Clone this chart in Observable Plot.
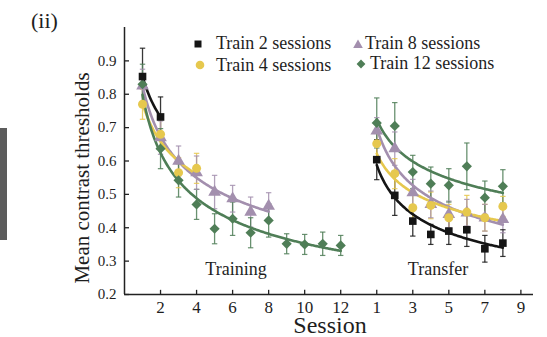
<!DOCTYPE html>
<html>
<head>
<meta charset="utf-8">
<script src="https://cdn.jsdelivr.net/npm/d3@7"></script>
<script src="https://cdn.jsdelivr.net/npm/@observablehq/plot@0.6"></script>
<style>
  body { margin: 0; background: #fff; }
  #wrap { position: relative; width: 547px; height: 337px; background: #fff; font-family: "Liberation Serif", "Times New Roman", Times, Tinos, "Nimbus Roman", "DejaVu Serif", "Noto Serif", serif; color: #1e1e1e; overflow: hidden; }
  .ov { position: absolute; white-space: nowrap; line-height: 1; }
</style>
</head>
<body>
<div id="wrap"></div>
<script>
// ---------- data ----------
const seriesNames = ["Train 2 sessions", "Train 4 sessions", "Train 8 sessions", "Train 12 sessions"];
const seriesColors = ["#151515", "#e6c84e", "#a38fae", "#4f7e57"];
const seriesSymbols = ["square", "circle", "triangle", "diamond2"];

// training phase, mean thresholds per session (session 1..n)
const train2 = [0.853, 0.732];
const train4 = [0.77, 0.68, 0.565, 0.578];
const train8 = [0.825, 0.67, 0.60, 0.565, 0.507, 0.487, 0.447, 0.465];
const train12 = [0.83, 0.637, 0.542, 0.47, 0.397, 0.427, 0.385, 0.422, 0.352, 0.35, 0.352, 0.347];
const train2Err = [0.085, 0.06];
const train4Err = [0.045, 0.045, 0.045, 0.045];
const train8Err = [0.05, 0.05, 0.045, 0.05, 0.05, 0.04, 0.045, 0.04];
const train12Err = [0.06, 0.06, 0.05, 0.045, 0.045, 0.05, 0.045, 0.05, 0.03, 0.03, 0.035, 0.03];

// transfer phase, sessions 1..8
const transfer2 = [0.604, 0.497, 0.42, 0.38, 0.39, 0.394, 0.337, 0.354];
const transfer4 = [0.652, 0.562, 0.46, 0.467, 0.43, 0.447, 0.43, 0.464];
const transfer8 = [0.69, 0.637, 0.505, 0.47, 0.44, 0.445, 0.43, 0.425];
const transfer12 = [0.714, 0.705, 0.567, 0.532, 0.527, 0.584, 0.49, 0.524];
const transfer2Err = [0.06, 0.06, 0.045, 0.03, 0.04, 0.05, 0.04, 0.04];
const transfer4Err = [0.04, 0.045, 0.04, 0.04, 0.04, 0.05, 0.04, 0.03];
const transfer8Err = [0.04, 0.05, 0.04, 0.04, 0.04, 0.04, 0.04, 0.04];
const transfer12Err = [0.075, 0.07, 0.05, 0.05, 0.05, 0.07, 0.05, 0.05];

// tick labels
const trainTickLabels = [2, 4, 6, 8, 10, 12];
const transferTickLabels = [1, 3, 5, 7, 9];
const yTickLabels = [0.2, 0.3, 0.4, 0.5, 0.6, 0.7, 0.8, 0.9];

// ---------- build ----------
const transferOffset = 13; // transfer session s drawn at axis position 13 + s
const trainSets = [train2, train4, train8, train12];
const trainErrs = [train2Err, train4Err, train8Err, train12Err];
const transferSets = [transfer2, transfer4, transfer8, transfer12];
const transferErrs = [transfer2Err, transfer4Err, transfer8Err, transfer12Err];

const points = [];
const fits = [];
function powerFit(vals) {
  const xs = vals.map((_, i) => Math.log(i + 1));
  const ys = vals.map(v => Math.log(v));
  const mx = d3.mean(xs), my = d3.mean(ys);
  const b = d3.sum(xs, (x, i) => (x - mx) * (ys[i] - my)) / d3.sum(xs, x => (x - mx) ** 2);
  const a = Math.exp(my - b * mx);
  return s => a * Math.pow(s, b);
}
function addPhase(sets, errs, offset, phase) {
  sets.forEach((vals, g) => {
    vals.forEach((v, i) => points.push({x: offset + i + 1, y: v, e: errs[g][i], g, phase}));
    const f = powerFit(vals);
    d3.range(1, vals.length + 0.0001, 0.05).forEach(s => fits.push({x: offset + s, y: f(s), g, key: phase + g}));
  });
}
addPhase(trainSets, trainErrs, 0, "train");
addPhase(transferSets, transferErrs, transferOffset, "transfer");

const xTickPos = trainTickLabels.concat(transferTickLabels.map(s => s + transferOffset));
const xTickText = new Map(xTickPos.map((p, i) => [p, String(trainTickLabels.concat(transferTickLabels)[i])]));

const col = g => seriesColors[g];
const drawOrder = [2, 1, 3, 0];
const capW = 0.15;
const axisColor = "#222";
const serif = "'Liberation Serif', 'Times New Roman', Times, Tinos, 'Nimbus Roman', 'DejaVu Serif', 'Noto Serif', serif";

const marks = [
  // error bars
  Plot.link(points, {x1: "x", x2: "x", y1: d => d.y - d.e, y2: d => d.y + d.e, stroke: d => col(d.g), strokeWidth: 1.3, strokeOpacity: 0.85}),
  Plot.link(points, {x1: d => d.x - capW, x2: d => d.x + capW, y1: d => d.y + d.e, y2: d => d.y + d.e, stroke: d => col(d.g), strokeWidth: 1.2, strokeOpacity: 0.85}),
  Plot.link(points, {x1: d => d.x - capW, x2: d => d.x + capW, y1: d => d.y - d.e, y2: d => d.y - d.e, stroke: d => col(d.g), strokeWidth: 1.2, strokeOpacity: 0.85}),
];
drawOrder.forEach(g => {
  marks.push(Plot.line(fits.filter(d => d.g === g), {x: "x", y: "y", z: "key", stroke: col(g), strokeWidth: 2.6}));
});
drawOrder.forEach(g => {
  const r = g === 2 ? 4.7 : g === 3 ? 4.6 : g === 0 ? 4.3 : 4.5;
  marks.push(Plot.dot(points.filter(d => d.g === g), {x: "x", y: "y", symbol: () => seriesSymbols[g], fill: col(g), stroke: "none", r}));
});
marks.push(
  Plot.ruleX([0], {stroke: axisColor, strokeWidth: 1.5}),
  Plot.ruleY([0.2], {stroke: axisColor, strokeWidth: 1.5}),
  // inward tick marks
  Plot.link(yTickLabels, {x1: 0, x2: 0.25, y1: d => d, y2: d => d, stroke: axisColor, strokeWidth: 1.3}),
  Plot.link(xTickPos, {x1: d => d, x2: d => d, y1: 0.2, y2: 0.2 + 0.014, stroke: axisColor, strokeWidth: 1.3}),
  Plot.axisY({ticks: yTickLabels, tickSize: 0, tickPadding: 8, tickFormat: d => d.toFixed(1), label: null, fontSize: 15}),
  Plot.axisX({ticks: xTickPos, tickSize: 0, tickPadding: 6, tickFormat: d => xTickText.get(d), label: null, fontSize: 17})
);

const chart = Plot.plot({
  width: 547,
  height: 337,
  marginLeft: 124,
  marginRight: 14,
  marginTop: 27,
  marginBottom: 43,
  x: {domain: [0, 22.7]},
  y: {domain: [0.2, 1.0]},
  style: {fontFamily: serif, color: "#1e1e1e", background: "transparent"},
  marks
});

const wrap = document.getElementById("wrap");
wrap.appendChild(chart);

function ov(html, style) {
  const d = document.createElement("div");
  d.className = "ov";
  d.innerHTML = html;
  Object.assign(d.style, style);
  wrap.appendChild(d);
  return d;
}
// gray bar at the left edge
ov("", {left: "0px", top: "128px", width: "7px", height: "112px", background: "#5c5c5c"});
ov("(ii)", {left: "31px", top: "10px", fontSize: "22px"});
ov("Mean contrast thresholds", {left: "82px", top: "178px", fontSize: "21px", transform: "translate(-50%,-50%) rotate(-90deg)"});
ov("Session", {left: "330px", top: "317.5px", fontSize: "24px", lineHeight: "0.6", transform: "translateX(-50%)"});
ov("Training", {left: "236px", top: "260px", fontSize: "18px", transform: "translateX(-50%)"});
ov("Transfer", {left: "438px", top: "260px", fontSize: "18px", transform: "translateX(-50%)"});

// legend: symbol centre and text start, per series
const symPath = {
  square: "M1.5,1.5H8.5V8.5H1.5Z",
  triangle: "M5,0.6L9.8,9H0.2Z",
  diamond2: "M5,0.6L9.4,5L5,9.4L0.6,5Z"
};
const legSym = [[198, 43.5], [200, 64.5], [358, 43.5], [361, 63.5]];
const legText = [[216, 36.3], [216, 57.8], [365, 36.3], [370, 56]];
seriesNames.forEach((name, g) => {
  const s = seriesSymbols[g];
  const shape = s === "circle"
    ? `<circle cx="5" cy="5" r="4.3" fill="${seriesColors[g]}"/>`
    : `<path d="${symPath[s]}" fill="${seriesColors[g]}"/>`;
  ov(`<svg width="10" height="10" viewBox="0 0 10 10" style="display:block">${shape}</svg>`,
     {left: (legSym[g][0] - 5) + "px", top: (legSym[g][1] - 5) + "px"});
  ov(name, {left: legText[g][0] + "px", top: legText[g][1] + "px", fontSize: "18px", lineHeight: "0.8"});
});
</script>
</body>
</html>
